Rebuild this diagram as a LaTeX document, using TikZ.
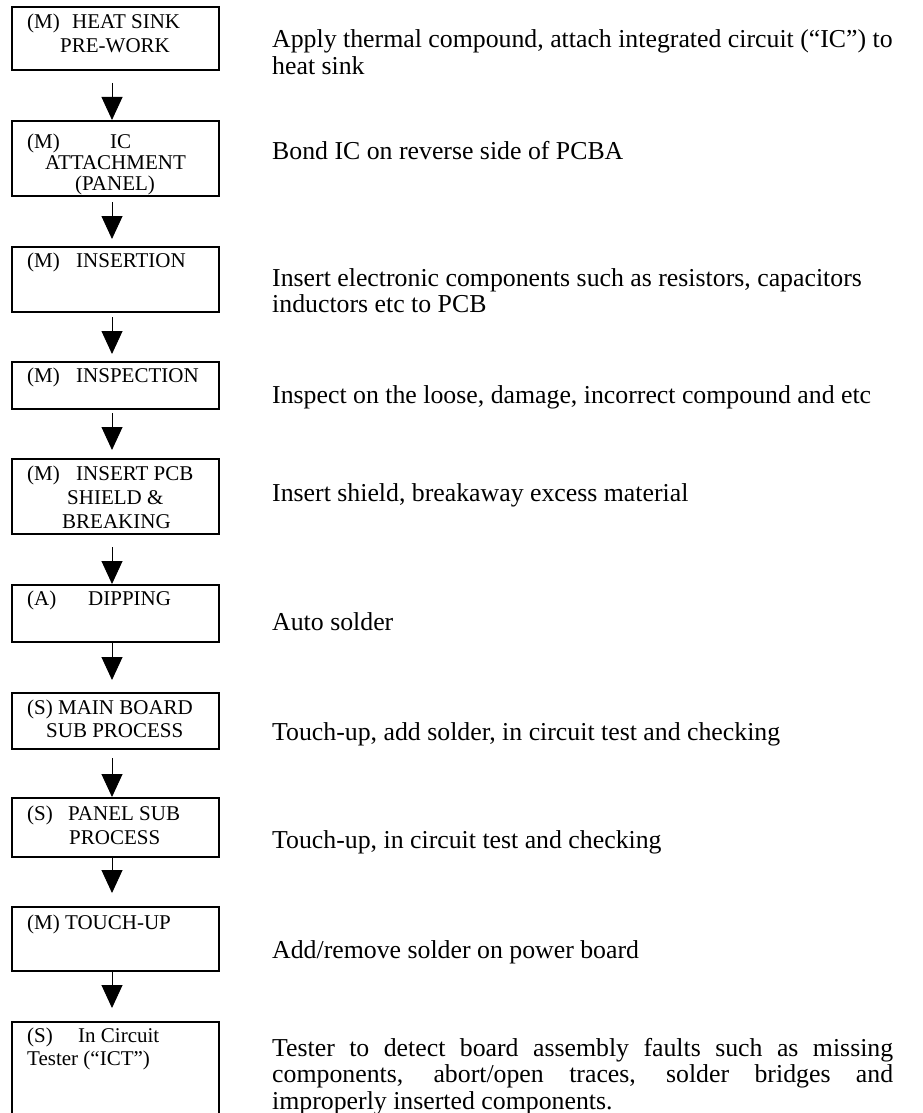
\documentclass[tikz,border=0pt]{standalone}
\usepackage{fontspec}
\setmainfont{Liberation Serif}
\usetikzlibrary{arrows.meta}
\newcommand{\procid}[2]{\makebox[#1][l]{#2}}
\begin{document}
\begin{tikzpicture}[x=1pt,y=-1pt,
  procbox/.style={draw,line width=1.6pt,minimum width=207pt,inner sep=0pt,outer sep=0pt},
  boxtext/.style={anchor=base west,text width=190pt,align=flush left,inner sep=0pt,font=\fontsize{21}{24}\selectfont},
  desc/.style={anchor=base west,text width=640pt,align=flush left,inner sep=0pt,font=\fontsize{25.8}{26.5}\selectfont},
  flow/.style={line width=0.9pt,-{Triangle[width=21pt,length=23pt]}}]
\useasboundingbox (0,0) rectangle (923,1113);
\node[procbox,minimum height=63pt] (heat) at (115.5,38.5) {};
\node[procbox,minimum height=75pt] (attach) at (115.5,158.5) {};
\node[procbox,minimum height=65pt] (insert) at (115.5,279.5) {};
\node[procbox,minimum height=47pt] (inspect) at (115.5,385.5) {};
\node[procbox,minimum height=75pt] (shield) at (115.5,496.5) {};
\node[procbox,minimum height=57pt] (dip) at (115.5,613.5) {};
\node[procbox,minimum height=56pt] (mainsub) at (115.5,721) {};
\node[procbox,minimum height=59pt] (panelsub) at (115.5,827.5) {};
\node[procbox,minimum height=64pt] (touch) at (115.5,939) {};
\node[procbox,minimum height=104pt] (ict) at (115.5,1074) {};
\node[boxtext] (heatT) at (27,29) {\procid{45pt}{(M)}HEAT SINK\\\hspace*{33pt}PRE-WORK};
\node[boxtext,font=\fontsize{21}{21}\selectfont] (attachT) at (27,148) {\procid{83pt}{(M)}IC\\\hspace*{18pt}ATTACHMENT\\\hspace*{48pt}(PANEL)};
\node[boxtext] (insertT) at (27,267) {\procid{49pt}{(M)}INSERTION};
\node[boxtext] (inspectT) at (27,382) {\procid{49pt}{(M)}INSPECTION};
\node[boxtext] (shieldT) at (27,480) {\procid{49pt}{(M)}INSERT PCB\\\hspace*{40pt}SHIELD \&\\\hspace*{35pt}BREAKING};
\node[boxtext] (dipT) at (27,605) {\procid{61pt}{(A)}DIPPING};
\node[boxtext,font=\fontsize{21}{23}\selectfont] (mainsubT) at (27,714) {(S) MAIN BOARD\\\hspace*{19pt}SUB PROCESS};
\node[boxtext] (panelsubT) at (27,820) {\procid{41pt}{(S)}PANEL SUB\\\hspace*{42pt}PROCESS};
\node[boxtext] (touchT) at (27,929) {(M) TOUCH-UP};
\node[boxtext,font=\fontsize{21}{23}\selectfont] (ictT) at (27,1042) {\procid{51pt}{(S)}In Circuit\\Tester (“ICT”)};
\node[desc] (heatD) at (272,48) {Apply thermal compound, attach integrated circuit (“IC”) to\\heat sink};
\node[desc] (attachD) at (272,159) {Bond IC on reverse side of PCBA};
\node[desc] (insertD) at (272,286) {Insert electronic components such as resistors, capacitors\\inductors etc to PCB};
\node[desc] (inspectD) at (272,403) {Inspect on the loose, damage, incorrect compound and etc};
\node[desc] (shieldD) at (272,501) {Insert shield, breakaway excess material};
\node[desc] (dipD) at (272,630) {Auto solder};
\node[desc] (mainsubD) at (272,740) {Touch-up, add solder, in circuit test and checking};
\node[desc] (panelsubD) at (272,848) {Touch-up, in circuit test and checking};
\node[desc] (touchD) at (272,958) {Add/remove solder on power board};
\node[desc,text width=621pt,align=justify] (ictD) at (272,1056) {Tester to detect board assembly faults such as missing\linebreak components, abort/open traces, solder bridges and\linebreak improperly inserted components.};
\draw[flow,shorten <=13pt,shorten >=1pt] ([xshift=-3.5pt]heat.south) -- ([xshift=-3.5pt]attach.north);
\draw[flow,shorten <=6pt,shorten >=8pt] ([xshift=-3.5pt]attach.south) -- ([xshift=-3.5pt]insert.north);
\draw[flow,shorten <=5pt,shorten >=8pt] ([xshift=-3.5pt]insert.south) -- ([xshift=-3.5pt]inspect.north);
\draw[flow,shorten <=4pt,shorten >=9pt] ([xshift=-3.5pt]inspect.south) -- ([xshift=-3.5pt]shield.north);
\draw[flow,shorten <=13pt,shorten >=1pt] ([xshift=-3.5pt]shield.south) -- ([xshift=-3.5pt]dip.north);
\draw[flow,shorten >=13pt] ([xshift=-3.5pt]dip.south) -- ([xshift=-3.5pt]mainsub.north);
\draw[flow,shorten <=9pt,shorten >=1pt] ([xshift=-3.5pt]mainsub.south) -- ([xshift=-3.5pt]panelsub.north);
\draw[flow,shorten >=14pt] ([xshift=-3.5pt]panelsub.south) -- ([xshift=-3.5pt]touch.north);
\draw[flow,shorten >=14pt] ([xshift=-3.5pt]touch.south) -- ([xshift=-3.5pt]ict.north);
\end{tikzpicture}
\end{document}
